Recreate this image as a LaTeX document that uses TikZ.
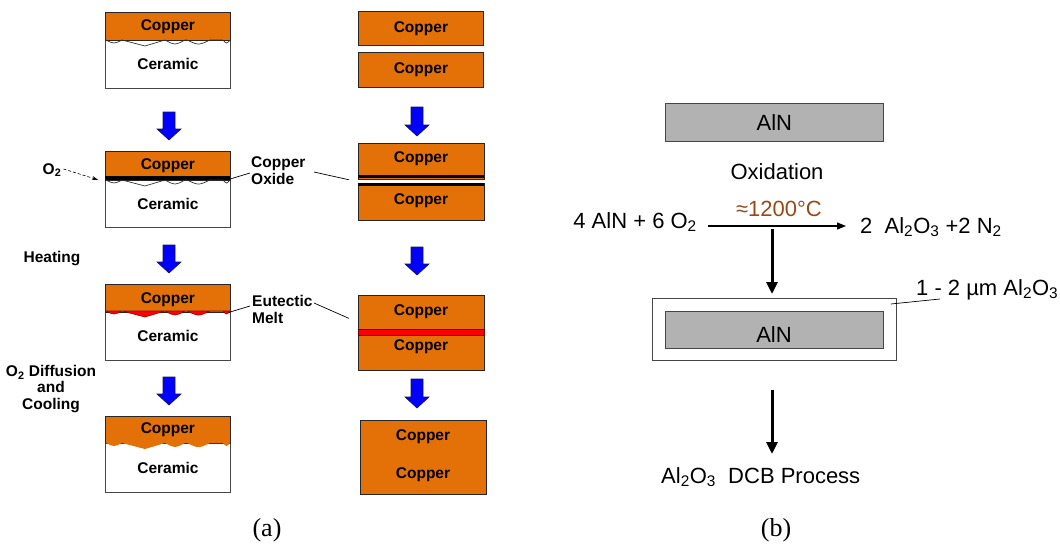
\documentclass[tikz,border=0pt]{standalone}
\usepackage{fontspec}
\setmainfont{Liberation Sans}
\newfontfamily\capfont{Liberation Serif}
\usetikzlibrary{arrows.meta}

\definecolor{copperorange}{RGB}{228,112,8}
\definecolor{meltred}{RGB}{255,0,0}
\definecolor{alngray}{RGB}{178,178,178}
\definecolor{tempbrown}{RGB}{152,74,22}
\definecolor{edgegray}{RGB}{70,70,70}
\definecolor{arrowblue}{RGB}{0,0,255}
\definecolor{arrowedge}{RGB}{20,20,90}

\tikzset{
  bold15/.style={font=\fontsize{15.5}{17}\selectfont\bfseries, inner sep=0pt},
  cu/.style={draw=black!85, fill=copperorange, line width=0.8pt, inner sep=0pt,
             anchor=north west, font=\fontsize{15.5}{17}\selectfont\bfseries},
  cer/.style={draw=edgegray, fill=white, line width=0.8pt, inner sep=0pt,
              anchor=north west, font=\fontsize{15.5}{17}\selectfont\bfseries},
  plain/.style={font=\fontsize{22}{24}\selectfont, inner sep=0pt},
  alnbox/.style={draw=edgegray, fill=alngray, line width=0.8pt, inner sep=0pt,
                 anchor=north west, font=\fontsize{22}{24}\selectfont},
  leader/.style={draw=black, line width=0.7pt},
  bigarrow/.style={line width=3pt, -{Triangle[length=12pt,width=11pt]}},
  caption/.style={font=\capfont\fontsize{26}{28}\selectfont, inner sep=0pt},
}

% rough ceramic surface below a copper layer, in local coordinates (y down)
\def\wavecurve{(0,0) -- (1,0) .. controls (9,4) .. (17,0)
  .. controls (28,3) .. (40,6) .. controls (50,3) .. (60,0)
  .. controls (70,5.4) .. (80,0) -- (82,0) .. controls (93.5,5.4) .. (105,0)
  -- (118,0) .. controls (121.5,4) .. (125,0)}

% blue block arrow pointing down: centre x, top y, tip y
\newcommand\blockdown[3]{%
  \filldraw[fill=arrowblue, draw=arrowedge, line width=0.6pt]
    (#1-6,#2) -- (#1+6,#2) -- (#1+6,#3-11) -- (#1+12,#3-11) -- (#1,#3)
    -- (#1-12,#3-11) -- (#1-6,#3-11) -- cycle;}

\begin{document}
\begin{tikzpicture}[x=1pt,y=-1pt]
\useasboundingbox (0,0) rectangle (1060,544);

% ---------------- (a) left column: copper on ceramic ----------------
% stage 1
\node[cer, minimum width=125pt, minimum height=48pt] (ceA) at (105,40) {Ceramic};
\node[cu, minimum width=125pt, minimum height=28pt] (cuA) at (105,12) {Copper};
\begin{scope}[shift={(105,40)}]
  \draw[black!80, line width=0.7pt] \wavecurve;
\end{scope}
\blockdown{169}{112}{140}

% stage 2: oxide film
\node[cer, minimum width=125pt, minimum height=47pt] (ceB) at (105,180) {Ceramic};
\node[cu, minimum width=125pt, minimum height=29pt] (cuB) at (105,151) {Copper};
\fill[black] (105,176) rectangle (230,180);
\begin{scope}[shift={(105,180)}]
  \draw[black!80, line width=0.7pt] \wavecurve;
\end{scope}
\blockdown{169}{245}{273}

% stage 3: eutectic melt
\node[cer, minimum width=125pt, minimum height=49pt] (ceC) at (105,311) {Ceramic};
\node[cu, minimum width=125pt, minimum height=28pt, text depth=0pt, yshift=-1pt] (cuC) at (105,283) {Copper};
\begin{scope}[shift={(105,311)}]
  \filldraw[fill=meltred, draw=red!60!black, line width=0.6pt] \wavecurve -- cycle;
\end{scope}
\blockdown{169}{377}{405}

% stage 4: bonded
\node[cer, minimum width=125pt, minimum height=49pt] (ceD) at (105,443) {Ceramic};
\node[cu, minimum width=125pt, minimum height=27pt] (cuD) at (105,416) {Copper};
\begin{scope}[shift={(105,443)}]
  \fill[copperorange] \wavecurve -- cycle;
\end{scope}

% side labels
\node[bold15] (oxy) at (52,170) {O\textsubscript{2}};
\draw[densely dashed, line width=0.6pt, -{Stealth[length=6pt,width=4pt]}]
  (oxy.east) ++(2,-1) -- ([xshift=-7pt,yshift=1pt]cuB.south west);
\node[bold15] (heat) at (52,259) {Heating};
\node[bold15, align=center, font=\fontsize{15.5}{16.5}\selectfont\bfseries] (diff) at (51,389)
  {O\textsubscript{2} Diffusion\\and\\Cooling};

% ---------------- (a) right column: copper on copper ----------------
\node[cu, minimum width=125pt, minimum height=34pt] (r1) at (358,11) {Copper};
\node[cu, minimum width=125pt, minimum height=35pt] (r2) at (358,52) {Copper};
\blockdown{417}{107}{136}

\node[cu, minimum width=126pt, minimum height=36pt, text depth=0pt] (r3) at (358,143) {};
\node[bold15] (r3t) at (421,159) {Copper};
\fill[black] (358,175) rectangle (484,177.5);
\node[cu, minimum width=126pt, minimum height=37pt] (r4) at (358,183) {};
\node[bold15] (r4t) at (421,201) {Copper};
\fill[black] (358,183) rectangle (484,185.5);
\blockdown{417}{247}{275}

\node[cu, minimum width=126pt, minimum height=75pt] (r5) at (358,295) {};
\filldraw[fill=meltred, draw=red!45!black, line width=0.7pt] (358,329) rectangle (484,335);
\node[bold15] (r5a) at (421,312) {Copper};
\node[bold15] (r5b) at (421,347) {Copper};
\blockdown{417}{379}{408}

\node[cu, minimum width=126pt, minimum height=74pt] (r6) at (360,420) {};
\node[bold15] (r6a) at (423,437) {Copper};
\node[bold15] (r6b) at (423,475) {Copper};

% interface callouts
\node[bold15, align=left, anchor=west] (oxlbl) at (251,170.5) {Copper\\Oxide};
\coordinate (oxL) at (250,173);
\coordinate (oxR) at (314,172);
\draw[leader] (oxL) -- ([yshift=2pt]cuB.south east);
\draw[leader] (oxR) -- ([xshift=-9pt]r3.south west);

\node[bold15, align=left, anchor=west] (eulbl) at (252,309.5) {Eutectic\\Melt};
\coordinate (euL) at (250,306);
\coordinate (euR) at (314,303);
\draw[leader] (euL) -- ([yshift=1pt]cuC.south east);
\draw[leader] (euR) -- ([xshift=-9pt,yshift=14.5pt]r5.west);

\node[caption] (capa) at (267,530) {(a)};

% ---------------- (b) AlN oxidation ----------------
\node[alnbox, minimum width=218pt, minimum height=38pt] (alnA) at (665,103) {AlN};
\node[plain] (oxid) at (777,172) {Oxidation};

\node[plain, anchor=base east] (react) at (697,228) {4 AlN + 6 O\textsubscript{2}};
\node[plain, anchor=base west] (prod) at (860,233) {2\ \ Al\textsubscript{2}O\textsubscript{3} +2 N\textsubscript{2}};
\coordinate (rxS) at (708,226);
\coordinate (rxE) at (846,226);
\draw[line width=1.2pt, -{Triangle[length=9pt,width=7pt]}] (rxS) -- (rxE);
\node[plain, anchor=base, text=tempbrown] (temp) at (779,216) {≈1200°C};

\node[draw=edgegray, fill=white, line width=0.8pt, minimum width=244pt, minimum height=62pt,
      inner sep=0pt, anchor=north west] (coat) at (652,298) {};
\node[alnbox, minimum width=218pt, minimum height=37pt] (alnB) at (665,311) {};
\node[plain] (alnBt) at (774,335) {AlN};

\coordinate (v1) at (772,229);
\draw[bigarrow] (v1) -- (v1 |- coat.north) [shorten >=4pt];

\node[plain, anchor=base west] (thick) at (916,295) {1 - 2 µm Al\textsubscript{2}O\textsubscript{3}};
\coordinate (thL) at (940,299);
\draw[leader] (thL) -- ([xshift=-6pt,yshift=-6pt]coat.north east);

\coordinate (v2) at (772,390);
\node[plain, anchor=base west] (dcb) at (661,483) {Al\textsubscript{2}O\textsubscript{3}\ \ DCB Process};
\draw[bigarrow] (v2) -- (772,454);

\node[caption] (capb) at (776,530) {(b)};
\end{tikzpicture}
\end{document}
